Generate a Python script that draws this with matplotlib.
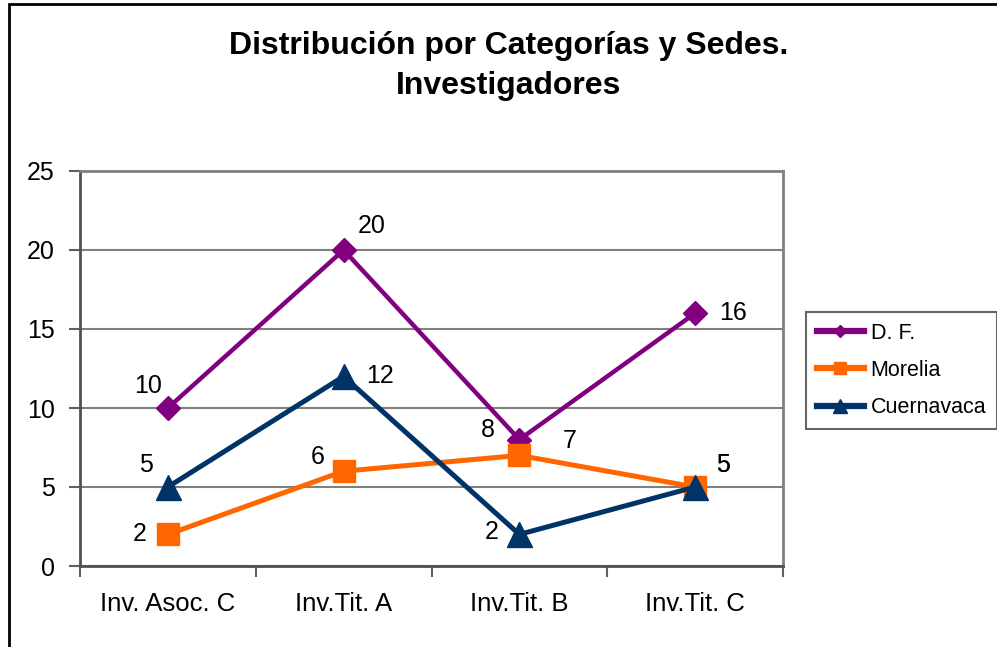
import matplotlib.pyplot as plt
from matplotlib.patches import Rectangle

plt.rcParams['font.family'] = ['Liberation Sans', 'DejaVu Sans']

# Data
categories = ["Inv. Asoc. C", "Inv.Tit. A", "Inv.Tit. B", "Inv.Tit. C"]
df_vals = [10, 20, 8, 16]
morelia_vals = [2, 6, 7, 5]
cuernavaca_vals = [5, 12, 2, 5]

fig = plt.figure(figsize=(9.97, 6.47), dpi=100)
ax = fig.add_axes([80 / 997, 81 / 647, 703 / 997, 395 / 647])

x = list(range(len(categories)))

ax.plot(x, df_vals, color="#800080", lw=3.2, marker="D", ms=12, label="D. F.", zorder=3)
ax.plot(x, morelia_vals, color="#FF6600", lw=3.6, marker="s", ms=16, label="Morelia", zorder=3)
ax.plot(x, cuernavaca_vals, color="#003366", lw=3.6, marker="^", ms=18, label="Cuernavaca", zorder=4)

# data labels (offsets in pixels)
label_offsets = {
    "df": [(-20, 22), (28, 24), (-31, 10), (38, 0)],
    "mor": [(-28, 0), (-26, 14), (50, 14), (28, 22)],
    "cue": [(-22, 22), (36, 0), (-28, 2), (28, 22)],
}
for vals, key in [(df_vals, "df"), (morelia_vals, "mor"), (cuernavaca_vals, "cue")]:
    for i, v in enumerate(vals):
        dx, dy = label_offsets[key][i]
        ax.annotate(str(v), (i, v), xytext=(dx, dy), textcoords="offset pixels",
                    ha="center", va="center", fontsize=18, zorder=5)

ax.set_xlim(-0.5, 3.5)
ax.set_ylim(0, 25)
ax.set_yticks(range(0, 26, 5))
ax.set_yticklabels([str(t) for t in range(0, 26, 5)], fontsize=18)
ax.set_xticks(x)
ax.set_xticklabels(categories, fontsize=18.5)
ax.tick_params(axis="x", length=0, pad=19)
ax.set_xticks([-0.5, 0.5, 1.5, 2.5, 3.5], minor=True)
ax.tick_params(axis="x", which="minor", length=8, width=1.5, color="#606060")
ax.tick_params(axis="y", length=8, width=1.5, color="#606060", pad=10)

ax.grid(axis="y", color="#808080", lw=1.5)
ax.set_axisbelow(True)
for side in ["top", "right"]:
    ax.spines[side].set_color("#808080")
    ax.spines[side].set_linewidth(2)
for side in ["left", "bottom"]:
    ax.spines[side].set_color("#505050")
    ax.spines[side].set_linewidth(2)

fig.text(509 / 997, 1 - 66 / 647, "Distribución por Categorías y Sedes.\nInvestigadores",
         ha="center", va="center", fontsize=23, fontweight="bold", linespacing=1.45)

leg = fig.legend(loc="upper left", bbox_to_anchor=(806 / 997, 1 - 312 / 647),
                 fontsize=15.5, frameon=True, fancybox=False, edgecolor="#404040",
                 markerscale=0.55, handlelength=2.2, labelspacing=0.75, borderpad=0.5,
                 handletextpad=0.3, borderaxespad=0)
leg.get_frame().set_linewidth(1.5)
for line in leg.get_lines():
    line.set_linewidth(4.5)

# outer chart border
fig.patches.append(Rectangle((8.5 / 997, -0.1), 1.2, 1 - 3.5 / 647 + 0.1,
                             transform=fig.transFigure, fill=False, edgecolor="black",
                             lw=2, clip_on=True))

fig.savefig("out.png", dpi=100)
